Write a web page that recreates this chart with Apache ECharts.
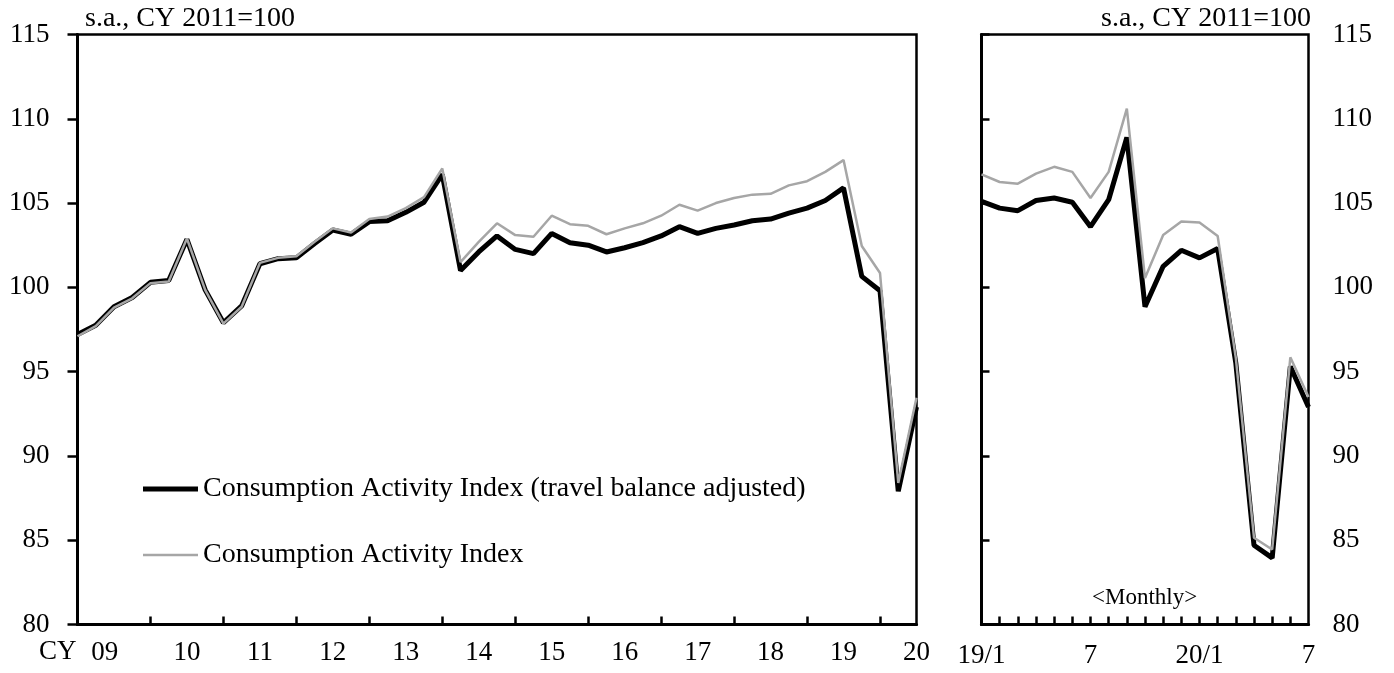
<!DOCTYPE html>
<html>
<head>
<meta charset="utf-8">
<script src="https://cdn.jsdelivr.net/npm/echarts@6/dist/echarts.min.js"></script>
<style>
  html, body { margin: 0; padding: 0; background: #fff; }
  #chart { width: 1394px; height: 673px; }
</style>
</head>
<body>
<div id="chart"></div>
<script>
// ---- Data ----
const seriesNames = ['Consumption Activity Index (travel balance adjusted)', 'Consumption Activity Index'];

// Quarterly, 2009Q1 .. 2020Q3
const quarterlyAdjusted = [
  97.2, 97.75, 98.85, 99.4,
  100.3, 100.4, 102.85, 99.85,
  97.9, 98.9, 101.4, 101.7,
  101.75, 102.6, 103.4, 103.15,
  103.9, 103.95, 104.45, 105.05,
  106.7, 101.0, 102.1, 103.05,
  102.25, 102.0, 103.2, 102.65,
  102.5, 102.1, 102.35, 102.65,
  103.05, 103.6, 103.2, 103.5,
  103.7, 103.95, 104.05, 104.4,
  104.7, 105.15, 105.9, 100.65,
  99.8, 87.9, 92.9
];
const quarterlyIndex = [
  97.1, 97.7, 98.8, 99.35,
  100.25, 100.35, 102.9, 99.85,
  97.85, 98.85, 101.45, 101.75,
  101.85, 102.7, 103.5, 103.25,
  104.05, 104.2, 104.7, 105.35,
  107.05, 101.5, 102.7, 103.8,
  103.1, 103.0, 104.25, 103.75,
  103.65, 103.15, 103.5, 103.8,
  104.25, 104.9, 104.55, 105.0,
  105.3, 105.5, 105.55, 106.05,
  106.3, 106.85, 107.55, 102.45,
  100.85, 88.4, 93.45
];
const yearLabels = ['09', '10', '11', '12', '13', '14', '15', '16', '17', '18', '19', '20'];
const yearLabelPos = [1.5, 6, 10, 14, 18, 22, 26, 30, 34, 38, 42, 46];

// Monthly, 2019/1 .. 2020/7
const monthlyAdjusted = [
  105.1, 104.7, 104.55, 105.15, 105.3, 105.05, 103.6, 105.2, 108.9, 98.85, 101.25, 102.2,
  101.75, 102.3, 95.5, 84.7, 83.95, 95.3, 92.9
];
const monthlyIndex = [
  106.7, 106.25, 106.15, 106.75, 107.15, 106.85, 105.3, 106.85, 110.6, 100.55, 103.1, 103.9,
  103.85, 103.05, 95.8, 85.15, 84.45, 95.85, 93.5
];
const monthLabels = ['19/1', '7', '20/1', '7'];
const monthLabelPos = [0, 6, 12, 18];

const yMin = 80, yMax = 115, yStep = 5;

// ---- Chart ----
const FONT = '"Liberation Serif", "Times New Roman", serif';
const pairs = arr => arr.map((v, i) => [i, v]);
const qTicks = [];
for (let i = 4; i < quarterlyAdjusted.length - 1; i += 4) qTicks.push(i);
const mTicks = [];
for (let i = 1; i < monthlyAdjusted.length - 1; i++) mTicks.push(i);

const chart = echarts.init(document.getElementById('chart'), null, { renderer: 'canvas' });

const axisLine = { show: true, lineStyle: { color: '#000', width: 3 } };
const tickLabelStyle = { color: '#000', fontFamily: FONT, fontSize: 27 };
const legendText = { color: '#000', fontFamily: FONT, fontSize: 28, lineHeight: 28 };

chart.setOption({
  animation: false,
  backgroundColor: '#fff',
  grid: [
    { left: 77.5, top: 34.5, width: 839, height: 590, show: true, borderColor: '#000', borderWidth: 2.5, backgroundColor: 'transparent' },
    { left: 981.5, top: 34.5, width: 327, height: 590, show: true, borderColor: '#000', borderWidth: 2.5, backgroundColor: 'transparent' }
  ],
  xAxis: [
    {
      type: 'value', gridIndex: 0, min: 0, max: quarterlyAdjusted.length - 1,
      axisLine: axisLine,
      splitLine: { show: false },
      axisTick: { show: true, inside: true, length: 8, customValues: qTicks, lineStyle: { color: '#000', width: 2.5 } },
      axisLabel: {
        show: true, margin: 15, ...tickLabelStyle,
        customValues: yearLabelPos,
        formatter: v => { const k = yearLabelPos.indexOf(v); return k >= 0 ? yearLabels[k] : ''; }
      }
    },
    {
      type: 'value', gridIndex: 1, min: 0, max: monthlyAdjusted.length - 1,
      axisLine: axisLine,
      splitLine: { show: false },
      axisTick: { show: true, inside: true, length: 8, customValues: mTicks, lineStyle: { color: '#000', width: 2.5 } },
      axisLabel: {
        show: true, margin: 18, ...tickLabelStyle,
        customValues: monthLabelPos,
        formatter: v => { const k = monthLabelPos.indexOf(v); return k >= 0 ? monthLabels[k] : ''; }
      }
    }
  ],
  yAxis: [
    {
      type: 'value', gridIndex: 0, min: yMin, max: yMax, interval: yStep, position: 'left',
      axisLine: axisLine,
      splitLine: { show: false },
      axisTick: { show: true, inside: false, length: 10, lineStyle: { color: '#000', width: 2.5 } },
      axisLabel: { margin: 28, ...tickLabelStyle }
    },
    {
      type: 'value', gridIndex: 1, min: yMin, max: yMax, interval: yStep, position: 'right',
      axisLine: axisLine,
      splitLine: { show: false },
      axisTick: { show: true, inside: false, length: 8, lineStyle: { color: '#000', width: 2.5 } },
      axisLabel: { margin: 24, ...tickLabelStyle }
    }
  ],
  legend: [
    {
      data: [{ name: seriesNames[0], icon: 'rect', itemStyle: { color: '#000' } }],
      left: 143, top: 475, padding: 0, orient: 'horizontal',
      itemWidth: 55, itemHeight: 5, selectedMode: false,
      textStyle: legendText
    },
    {
      data: [{ name: seriesNames[1], icon: 'rect', itemStyle: { color: '#a6a6a6' } }],
      left: 143, top: 541, padding: 0, orient: 'horizontal',
      itemWidth: 55, itemHeight: 2.5, selectedMode: false,
      textStyle: legendText
    }
  ],
  series: [
    { name: seriesNames[0], type: 'line', xAxisIndex: 0, yAxisIndex: 0, data: pairs(quarterlyAdjusted),
      symbol: 'none', lineStyle: { color: '#000', width: 5 }, itemStyle: { color: '#000' }, z: 2 },
    { name: seriesNames[1], type: 'line', xAxisIndex: 0, yAxisIndex: 0, data: pairs(quarterlyIndex),
      symbol: 'none', lineStyle: { color: '#a6a6a6', width: 2.5 }, itemStyle: { color: '#a6a6a6' }, z: 3 },
    { name: seriesNames[0], type: 'line', xAxisIndex: 1, yAxisIndex: 1, data: pairs(monthlyAdjusted),
      symbol: 'none', lineStyle: { color: '#000', width: 5 }, itemStyle: { color: '#000' }, z: 2 },
    { name: seriesNames[1], type: 'line', xAxisIndex: 1, yAxisIndex: 1, data: pairs(monthlyIndex),
      symbol: 'none', lineStyle: { color: '#a6a6a6', width: 2.5 }, itemStyle: { color: '#a6a6a6' }, z: 3 }
  ],
  graphic: [
    { type: 'text', left: 85, top: 5, style: { text: 's.a., CY 2011=100', font: '28px ' + FONT, fill: '#000' } },
    { type: 'text', right: 83, top: 5, style: { text: 's.a., CY 2011=100', font: '28px ' + FONT, fill: '#000' } },
    { type: 'text', left: 39, top: 638, style: { text: 'CY', font: '27px ' + FONT, fill: '#000' } },
    { type: 'text', left: 1092, top: 586, style: { text: '<Monthly>', font: '23px ' + FONT, fill: '#000' } }
  ]
});
</script>
</body>
</html>
